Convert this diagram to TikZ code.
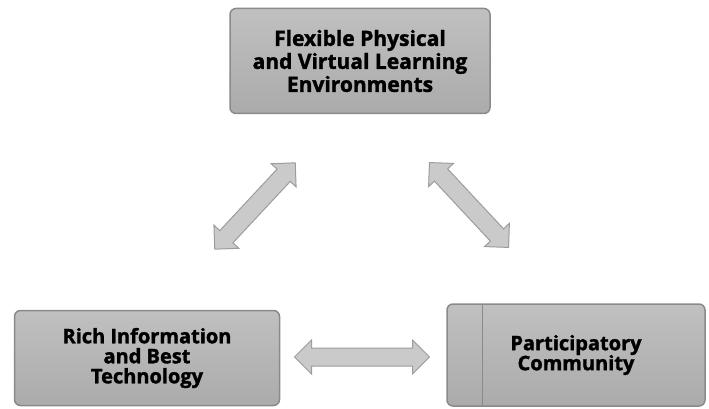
\documentclass[tikz,border=0pt]{standalone}
\usepackage{fontspec}
\setmainfont{Open Sans}[BoldFeatures={FakeBold=1.6}]
\usepackage{tikz}
\usetikzlibrary{arrows.meta,positioning,calc,shapes.arrows}
\definecolor{boxgray}{HTML}{ABABAB}
\definecolor{boxedge}{HTML}{8A8A8A}
\definecolor{arrgray}{HTML}{CACACA}
\definecolor{arredge}{HTML}{9C9C9C}
\tikzset{
  block/.style={draw=boxedge,line width=1.5pt,rounded corners=6pt,align=center,
    top color=boxgray!75,bottom color=boxgray,
    font=\fontsize{21}{23}\selectfont\bfseries,inner sep=4pt},
  tight/.style={font=\fontsize{20}{20}\selectfont\bfseries},
  fatarrow/.style={double arrow,draw=arredge,fill=arrgray,line width=1pt,
    inner xsep=0pt,inner ysep=8.5pt,double arrow head extend=8pt},
}

\begin{document}
\begin{tikzpicture}[x=1pt,y=-1pt]
			\useasboundingbox (0,0) rectangle (709,409);
			\node[block,minimum width=260pt,minimum height=105pt] (flex) at (360,61) {Flexible Physical\\and Virtual Learning\\Environments};
			\node[block,tight,minimum width=265pt,minimum height=95pt] (rich) at (147,358) {Rich Information\\and Best\\Technology};
			\node[block,tight,minimum width=258pt,minimum height=102pt] (part) at (576,355) {Participatory\\Community};
			\draw[boxedge,line width=1pt] ($(part.north west)+(36,2)$) -- ($(part.south west)+(36,-2)$);
			% arrows between the boxes
			\node[fatarrow,minimum height=118pt,rotate=47] (lft) at (255,206) {};
			\node[fatarrow,minimum height=116pt,rotate=-47] (rgt) at (469,205) {};
			\node[fatarrow,minimum height=135pt] (btm) at (362,357) {};
		\end{tikzpicture}
\end{document}
